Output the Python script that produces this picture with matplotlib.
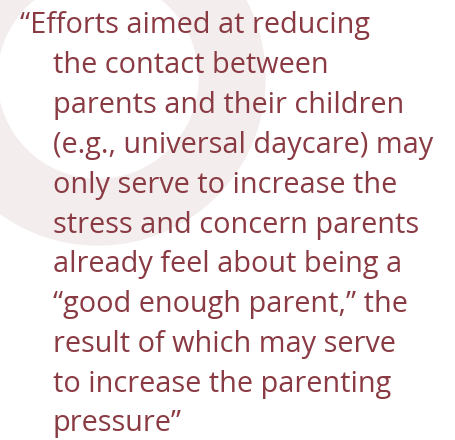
import matplotlib
matplotlib.use("Agg")
import matplotlib.pyplot as plt
from matplotlib.patches import Circle

# quote lines, as broken in the original
lines = [
    "\u201cEfforts aimed at reducing",
    "the contact between",
    "parents and their children",
    "(e.g., universal daycare) may",
    "only serve to increase the",
    "stress and concern parents",
    "already feel about being a",
    "\u201cgood enough parent,\u201d the",
    "result of which may serve",
    "to increase the parenting",
    "pressure\u201d",
]

text_color = "#8a3a42"
ring_color = "#f3eded"

fig = plt.figure(figsize=(4.56, 4.40), dpi=100)
ax = fig.add_axes([0, 0, 1, 1])
ax.set_xlim(0, 456)
ax.set_ylim(440, 0)
ax.axis("off")

# decorative ring behind the quote
ax.add_patch(Circle((98, 78), 167, color=ring_color, zorder=0))
ax.add_patch(Circle((98, 78), 100, color="white", zorder=1))

for i, line in enumerate(lines):
    x = 20 if i == 0 else 53
    ax.text(x, 33.5 + 39.8 * i, line, color=text_color, fontsize=20.8,
            family="Open Sans", va="baseline", ha="left", zorder=2)

fig.savefig("out.png", dpi=100)
